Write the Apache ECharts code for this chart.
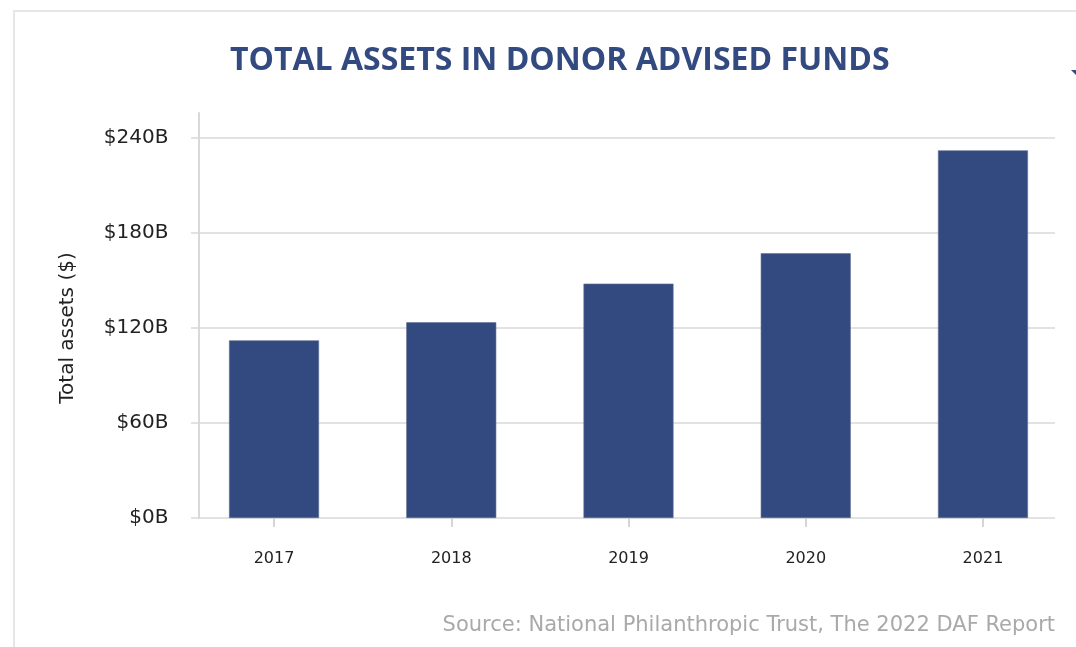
<!DOCTYPE html>
<html>
<head>
<meta charset="utf-8">
<style>
  html, body { margin: 0; padding: 0; background: #ffffff; }
  #chart { width: 1076px; height: 647px; }
</style>
<script src="https://cdn.jsdelivr.net/npm/echarts@6/dist/echarts.min.js"></script>
</head>
<body>
<div id="chart"></div>
<script>
// Total assets held in donor advised funds, billions of dollars
const years = ['2017', '2018', '2019', '2020', '2021'];
const totalAssets = [112.2, 123.6, 148.0, 167.2, 232.2];
const yTicks = [0, 60, 120, 180, 240];

const NAVY = '#334a80';
const GRID_GRAY = '#e2e2e2';
const LABEL_FONT = '"DejaVu Sans", Inter, sans-serif';

const chart = echarts.init(document.getElementById('chart'), null, { renderer: 'canvas' });

const yMax = yTicks[yTicks.length - 1];
const yStep = yTicks[1] - yTicks[0];
// the gridline layer reaches a bit above the top tick
const frameTop = 113, plotTop = 138, plotBottom = 129;
const plotHeight = 647 - plotTop - plotBottom;
const frameMax = yMax * (647 - frameTop - plotBottom) / plotHeight;

chart.setOption({
  animation: false,
  title: {
    text: 'TOTAL ASSETS IN DONOR ADVISED FUNDS',
    left: 225,
    top: 40,
    textStyle: {
      fontFamily: '"Open Sans", sans-serif',
      fontWeight: 'bold',
      fontSize: 32,
      color: NAVY
    }
  },
  grid: [
    // bars
    { left: 185.4, right: 4.4, top: plotTop, bottom: plotBottom, containLabel: false },
    // gridlines and axis frame
    { left: 191, right: 21, top: frameTop, bottom: plotBottom, containLabel: false }
  ],
  xAxis: [
    {
      type: 'category',
      gridIndex: 0,
      data: years,
      axisLine: { show: false },
      axisTick: { show: true, alignWithLabel: true, length: 9, lineStyle: { color: '#d6d6d6', width: 2 } },
      axisLabel: { margin: 33, fontSize: 16, color: '#222222', fontFamily: LABEL_FONT },
      splitLine: { show: false }
    },
    {
      type: 'category',
      gridIndex: 1,
      data: years,
      show: false
    }
  ],
  yAxis: [
    {
      type: 'value',
      gridIndex: 0,
      min: 0,
      max: yMax,
      interval: yStep,
      axisLine: { show: false },
      axisTick: { show: false },
      splitLine: { show: false },
      axisLabel: {
        margin: 17,
        fontSize: 20,
        color: '#222222',
        fontFamily: LABEL_FONT,
        formatter: v => '$' + v + 'B'
      },
      name: 'Total assets ($)',
      nameLocation: 'middle',
      nameRotate: 90,
      nameGap: 108,
      nameTextStyle: { fontSize: 20, color: '#222222', fontFamily: LABEL_FONT }
    },
    {
      type: 'value',
      gridIndex: 1,
      min: 0,
      max: frameMax,
      interval: yStep,
      offset: -8,
      axisLine: { show: true, lineStyle: { color: '#d9d9d9', width: 2 } },
      axisTick: { show: false },
      axisLabel: { show: false },
      splitLine: {
        show: true,
        showMinLine: true,
        showMaxLine: false,
        lineStyle: { color: GRID_GRAY, width: 2 }
      }
    }
  ],
  series: [
    {
      type: 'bar',
      xAxisIndex: 0,
      yAxisIndex: 0,
      data: totalAssets,
      barWidth: 90,
      itemStyle: { color: NAVY, borderColor: '#5f6f92', borderWidth: 0.6 },
      z: 3
    }
  ],
  graphic: [
    {
      type: 'rect',
      silent: true,
      shape: { x: 14, y: 11, width: 1200, height: 800 },
      style: { fill: 'none', stroke: '#e6e6e6', lineWidth: 2 },
      z: -1
    },
    {
      type: 'polygon',
      silent: true,
      shape: { points: [[1071, 70], [1076, 70], [1076, 75]] },
      style: { fill: NAVY }
    },
    {
      type: 'text',
      silent: true,
      right: 21,
      top: 615,
      style: {
        text: 'Source: National Philanthropic Trust, The 2022 DAF Report',
        fontSize: 21,
        fontFamily: LABEL_FONT,
        fill: '#a9a9a9'
      }
    }
  ]
});
</script>
</body>
</html>
